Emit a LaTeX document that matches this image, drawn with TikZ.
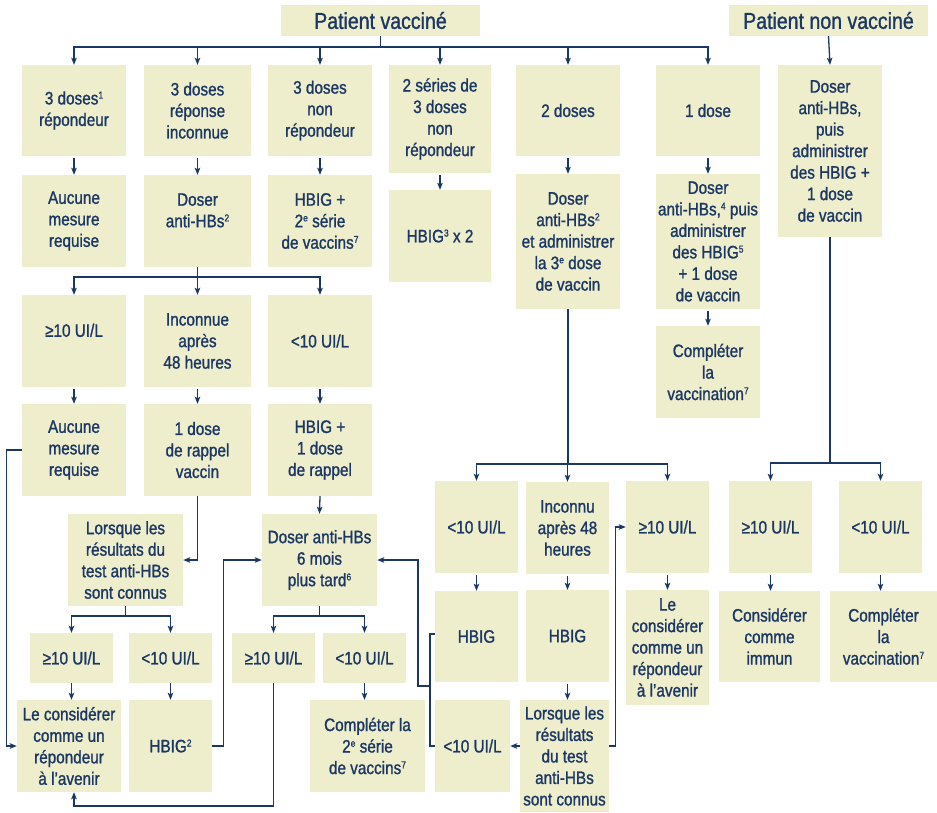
\documentclass[tikz,border=0pt]{standalone}
\usepackage{fontspec}
\setmainfont{Liberation Sans}[FakeStretch=0.85,FakeBold=1.2]
\usetikzlibrary{arrows.meta}
\definecolor{boxfill}{RGB}{239,238,204}
\definecolor{navy}{RGB}{27,55,100}
\newcommand{\bx}[6]{\node[box, minimum width={#4pt-#2pt}, minimum height={#5pt-#3pt}] (#1) at ({(#2+#4)/2},{(#3+#5)/2}) {#6};}
\newcommand{\sps}[1]{\raisebox{5.8pt}{\fontsize{10}{10}\selectfont #1}}
\begin{document}
\begin{tikzpicture}[x=1pt,y=-1pt,
  box/.style={fill=boxfill, draw=none, inner sep=0pt, align=center, text=navy,
    font=\fontsize{18}{21.5}\selectfont},
  title/.style={box, font=\fontsize{23}{26}\selectfont},
  ln/.style={draw=navy, line width=1.3pt},
  arr/.style={ln, -{Stealth[length=7pt,width=5.5pt,inset=1.5pt]}},
  ]
\useasboundingbox (0,0) rectangle (937,812);
% titles
\node[title, minimum width=199pt, minimum height=31pt] (pv) at (380.5,20.5) {Patient vacciné};
\node[title, minimum width=199pt, minimum height=31pt] (pnv) at (828.5,20.5) {Patient non vacciné};
% row A
\bx{A1}{22}{65}{126}{156}{3 doses\sps{1}\\répondeur}
\bx{A2}{144}{65}{251}{156}{3 doses\\réponse\\inconnue}
\bx{A3}{268}{65}{372}{156}{3 doses\\non\\répondeur}
\bx{A4}{389}{65}{491}{173}{2 séries de\\3 doses\\non\\répondeur}
\bx{A5}{516}{65}{620}{156}{2 doses}
\bx{A6}{656}{65}{760}{156}{1 dose}
\bx{N1}{778}{65}{882}{237}{Doser\\anti-HBs,\\puis\\administrer\\des HBIG +\\1 dose\\de vaccin}
% row B
\bx{B1}{22}{175}{126}{267}{Aucune\\mesure\\requise}
\bx{B2}{144}{175}{251}{267}{Doser\\anti-HBs\sps{2}\\\mbox{}}
\bx{B3}{268}{175}{372}{267}{HBIG +\\2\sps{e} série\\de vaccins\sps{7}}
\bx{B4}{389}{190}{491}{282}{HBIG\sps{3} x 2}
\bx{B5}{516}{174}{620}{309}{Doser\\anti-HBs\sps{2}\\et administrer\\la 3\sps{e} dose\\de vaccin}
\bx{B6}{656}{174}{760}{309}{Doser\\anti-HBs,\sps{4} puis\\administrer\\des HBIG\sps{5}\\+ 1 dose\\de vaccin}
\bx{B7}{656}{326}{760}{418}{Compléter\\la\\vaccination\sps{7}}
% row C / D
\bx{C1}{22}{295}{126}{387}{≥10 UI/L\\\mbox{}}
\bx{C2}{144}{295}{251}{387}{Inconnue\\après\\48 heures}
\bx{C3}{268}{295}{372}{387}{<10 UI/L}
\bx{D1}{22}{404}{126}{496}{Aucune\\mesure\\requise}
\bx{D2}{144}{404}{251}{496}{1 dose\\de rappel\\vaccin}
\bx{D3}{268}{404}{372}{496}{HBIG +\\1 dose\\de rappel}
% row E
\bx{E2}{68}{514}{183}{606}{Lorsque les\\résultats du\\test anti-HBs\\sont connus}
\bx{E3}{262}{514}{377}{606}{Doser anti-HBs\\6 mois\\plus tard\sps{6}}
% row F
\bx{F1}{30}{633}{113}{683}{≥10 UI/L}
\bx{F2}{129}{633}{212}{683}{<10 UI/L}
\bx{F3}{232}{633}{315}{683}{≥10 UI/L}
\bx{F4}{323}{633}{406}{683}{<10 UI/L}
% row G
\bx{G1}{17}{700}{121}{792}{Le considérer\\comme un\\répondeur\\à l’avenir}
\bx{G2}{129}{700}{212}{792}{HBIG\sps{2}}
\bx{G4}{310}{700}{425}{792}{Compléter la\\2\sps{e} série\\de vaccins\sps{7}}
% right rows
\bx{H1}{435}{481}{518}{573}{<10 UI/L}
\bx{H2}{526}{482}{609}{574}{Inconnu\\après 48\\heures}
\bx{H3}{626}{481}{709}{573}{≥10 UI/L}
\bx{H4}{729}{481}{812}{573}{≥10 UI/L}
\bx{H5}{839}{481}{922}{573}{<10 UI/L}
\bx{I1}{435}{591}{518}{682}{HBIG}
\bx{I2}{526}{590}{609}{682}{HBIG}
\bx{I3}{626}{590}{709}{705}{Le\\considérer\\comme un\\répondeur\\à l’avenir}
\bx{I4}{719}{591}{820}{682}{Considérer\\comme\\immun}
\bx{I5}{830}{591}{937}{682}{Compléter\\la\\vaccination\sps{7}}
\bx{J1}{435}{700}{510}{792}{<10 UI/L}
\bx{J2}{520}{700}{609}{812}{Lorsque les\\résultats\\du test\\anti-HBs\\sont connus}
% coordinates
\coordinate (busA) at (380.5,47);
\coordinate (busB) at (197.5,277);
\coordinate (busE2) at (125.5,616);
\coordinate (busE3) at (319.5,616);
\coordinate (busH) at (568,464);
\coordinate (busN) at (830,463);
\coordinate (ybot) at (0,806);
\coordinate (jn) at (430,686);
% top bus
\draw[ln] (pv.south) -- (busA);
\foreach \t in {A1,A2,A3,A4,A5,A6} \draw[arr] (busA) -| (\t.north);
\draw[arr] (pnv.south) -- (N1.north);
% A -> B
\foreach \s/\t in {A1/B1,A2/B2,A3/B3,A4/B4,A5/B5,A6/B6,B6/B7}
  \draw[arr, shorten <=2pt] (\s.south) -- (\t.north);
% left branch
\draw[ln] (B2.south) -- (busB);
\foreach \t in {C1,C2,C3} \draw[arr] (busB) -| (\t.north);
\foreach \s/\t in {C1/D1,C2/D2,C3/D3} \draw[arr, shorten <=2pt] (\s.south) -- (\t.north);
\draw[arr] (D2.south) |- (E2.east);
\draw[arr] (D3.south) -- (E3.north);
\draw[ln] (E2.south) -- (busE2);
\draw[arr] (busE2) -| (F1.north);
\draw[arr] (busE2) -| (F2.north);
\draw[ln] (E3.south) -- (busE3);
\draw[arr] (busE3) -| (F3.north);
\draw[arr] (busE3) -| (F4.north);
\draw[arr] (F1.south) -- (F1.south |- G1.north);
\draw[arr] (F2.south) -- (G2.north);
\draw[arr] (F4.south) -- (F4.south |- G4.north);
\draw[arr] (F3.south) -- (F3.south |- ybot) -| ([xshift=5pt]G1.south);
\draw[arr] (G2.east) -- ++(11,0) |- (E3.west);
\draw[arr] (D1.west) -- ++(-15,0) |- (G1.west);
% right branch
\draw[ln] (B5.south) -- (busH);
\foreach \t in {H1,H2,H3} \draw[arr] (busH) -| (\t.north);
\draw[ln] (N1.south) -- (busN);
\draw[arr] (busN) -| (H4.north);
\draw[arr] (busN) -| (H5.north);
\foreach \s/\t in {H1/I1,H2/I2,H3/I3,H4/I4,H5/I5} \draw[arr, shorten <=2pt] (\s.south) -- (\s.south |- \t.north);
\draw[arr, shorten <=2pt] (I2.south) -- (I2.south |- J2.north);
\draw[arr] (J2.west |- J1.east) -- (J1.east);
\draw[arr] (J2.east |- J1.east) -- ++(6,0) |- (H3.west);
\draw[ln] ([yshift=2.5pt]I1.west) -| (jn) |- (J1.west);
\draw[arr] (jn) -- ++(-12,0) |- (E3.east);
\end{tikzpicture}
\end{document}
